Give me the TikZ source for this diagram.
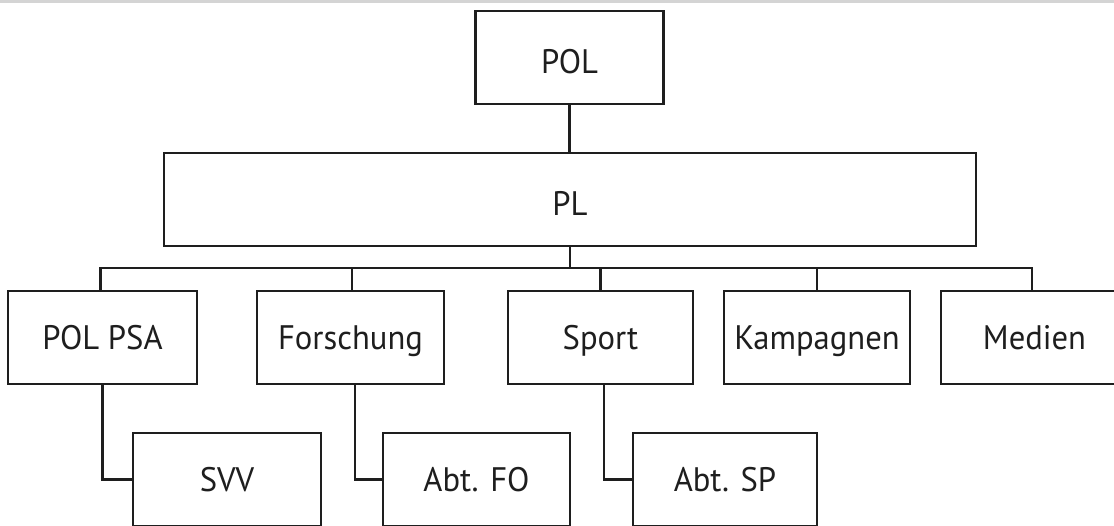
\documentclass[tikz,border=0pt]{standalone}
\usepackage{fontspec}
\setmainfont{PT Sans}[FakeStretch=0.96]
\definecolor{ink}{HTML}{1E1E1E}
\definecolor{topbar}{HTML}{D4D4D4}
\tikzset{
  box/.style={draw=ink, line width=2.2pt, rectangle, inner sep=0pt,
    minimum height=93pt, text=ink, font=\fontsize{34}{40}\selectfont,
    text height=23.8pt, text depth=0pt},
  topbox/.style={box, text height=31.8pt},
  link/.style={draw=ink, line width=2.2pt}
}
\begin{document}
\begin{tikzpicture}[x=1pt, y=-1pt]
\clip (0,0) rectangle (1114,525);
\useasboundingbox (0,0) rectangle (1114,525);
\fill[white] (0,0) rectangle (1114,525);
\fill[topbar] (0,0) rectangle (1114,3);
% top levels
\node[topbox, minimum width=188pt] (POL) at (569.5,57.5) {POL};
\node[topbox, minimum width=812pt] (PL) at (570,199.5) {PL};
% row
\node[box, minimum width=189pt] (PSA) at (102.5,337.5) {POL PSA};
\node[box, minimum width=187pt] (FO) at (350.5,337.5) {Forschung};
\node[box, minimum width=185pt] (SP) at (600.5,337.5) {Sport};
\node[box, minimum width=186pt] (KA) at (817,337.5) {Kampagnen};
\node[box, minimum width=187pt] (ME) at (1034.5,337.5) {Medien};
% second row
\node[box, minimum width=188pt] (SVV) at (227,479.5) {SVV};
\node[box, minimum width=187pt] (AFO) at (476.5,479.5) {Abt. FO};
\node[box, minimum width=184pt] (ASP) at (725,479.5) {Abt. SP};
% connectors
\draw[link] (POL.south) -- (POL.south |- PL.north);
\coordinate (bus) at (570,268);
\draw[link] (PL.south) -- (bus);
\draw[link] (bus) -| ([xshift=-2pt]PSA.north);
\draw[link] (bus) -| ([xshift=1.5pt]FO.north);
\draw[link] (bus) -| (SP.north);
\draw[link] (bus) -| (KA.north);
\draw[link] (bus) -| ([xshift=-2.5pt]ME.north);
\draw[link] (PSA.south) |- (SVV.west);
\draw[link] ([xshift=4.5pt]FO.south) |- (AFO.west);
\draw[link] ([xshift=3.5pt]SP.south) |- (ASP.west);
\end{tikzpicture}
\end{document}
